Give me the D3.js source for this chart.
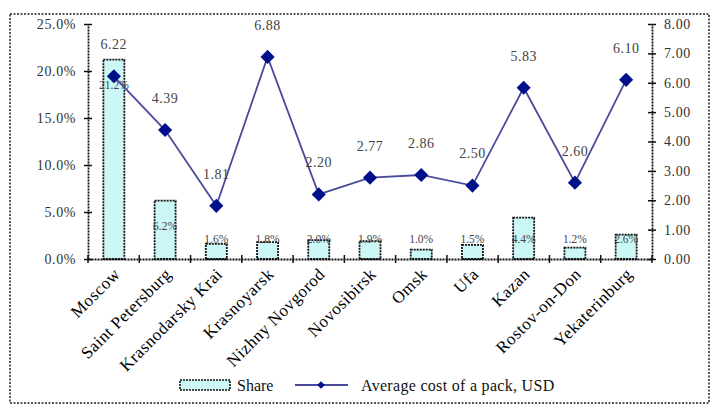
<!DOCTYPE html>
<html><head><meta charset="utf-8">
<script src="https://cdn.jsdelivr.net/npm/d3@7"></script>
<style>
body{margin:0;background:#fff;}
svg text{font-family:"Liberation Serif","DejaVu Serif",serif;}
</style></head>
<body>
<svg id="c" width="715" height="410"></svg>
<script>
const categories = ["Moscow","Saint Petersburg","Krasnodarsky Krai","Krasnoyarsk","Nizhny Novgorod","Novosibirsk","Omsk","Ufa","Kazan","Rostov-on-Don","Yekaterinburg"];
const shareValues = [21.2, 6.2, 1.6, 1.8, 2.0, 1.9, 1.0, 1.5, 4.4, 1.2, 2.6];
const costValues = [6.22, 4.39, 1.81, 6.88, 2.20, 2.77, 2.86, 2.50, 5.83, 2.60, 6.10];
const leftTicks = [0, 5, 10, 15, 20, 25];
const rightTicks = [0, 1, 2, 3, 4, 5, 6, 7, 8];
const seriesNames = ["Share", "Average cost of a pack, USD"];

const svg = d3.select("#c");
const L = 88, R = 652, T = 24, B = 259;

svg.append("rect").attr("x",10).attr("y",14).attr("width",699).attr("height",389)
  .attr("fill","#fff").attr("stroke","#222").attr("stroke-width",1.5).attr("stroke-dasharray","2,1.5");

const x = d3.scaleBand().domain(categories).range([L, R]).paddingInner(0.59).paddingOuter(0.3);
const yL = d3.scaleLinear().domain([0, 25]).range([B, T]);
const yR = d3.scaleLinear().domain([0, 8]).range([B, T]);

// bars
svg.append("g").selectAll("rect").data(categories).join("rect")
  .attr("x", d => x(d)).attr("width", x.bandwidth())
  .attr("y", (d,i) => yL(shareValues[i])).attr("height", (d,i) => yL(0) - yL(shareValues[i]))
  .attr("fill", "#ccf7f7").attr("stroke", "#111").attr("stroke-width", 1.8).attr("stroke-dasharray","2,1");

// axes
const axL = svg.append("g").attr("transform", `translate(${L},0)`)
  .call(d3.axisLeft(yL).tickValues(leftTicks).tickFormat(d => d.toFixed(1) + "%").tickSizeInner(4).tickSizeOuter(0).tickPadding(8));
axL.selectAll(".tick line").attr("x2", 4).attr("x1", -4);
const axR = svg.append("g").attr("transform", `translate(${R},0)`)
  .call(d3.axisRight(yR).tickValues(rightTicks).tickFormat(d => d.toFixed(2)).tickSizeInner(4).tickSizeOuter(0).tickPadding(8));
axR.selectAll(".tick line").attr("x1", -4).attr("x2", 4);
const axB = svg.append("g").attr("transform", `translate(0,${B})`)
  .call(d3.axisBottom(x).tickSize(0).tickFormat(""));
[axL, axR, axB].forEach(a => {
  a.select(".domain").attr("stroke","#111").attr("stroke-width",1.8).attr("stroke-dasharray","2,1");
  a.selectAll(".tick line").attr("stroke","#111").attr("stroke-width",1.5);
  a.selectAll("text").attr("font-size",14).attr("fill","#333").attr("letter-spacing","0.6px").attr("font-family","Liberation Serif, serif");
});
// category boundary ticks on x axis
const bounds = d3.range(categories.length + 1).map(i => L + (R - L) / categories.length * i);
svg.append("g").selectAll("line").data(bounds).join("line")
  .attr("x1", d => d).attr("x2", d => d).attr("y1", B - 4).attr("y2", B + 4)
  .attr("stroke", "#111").attr("stroke-width", 1.5);

// category labels
svg.append("g").selectAll("text").data(categories).join("text")
  .attr("transform", d => `translate(${x(d) + x.bandwidth()/2 + 3},${B + 12}) rotate(-45)`)
  .attr("text-anchor", "end").attr("dy", "0.35em")
  .attr("font-size", 17).attr("fill", "#000").attr("letter-spacing","0.5px")
  .text(d => d);

// bar labels
svg.append("g").selectAll("text").data(categories).join("text")
  .attr("x", d => x(d) + x.bandwidth()/2)
  .attr("y", (d,i) => Math.min(yL(shareValues[i]) + 25, B - 20))
  .attr("text-anchor", "middle").attr("dy","0.35em")
  .attr("font-size", 11.5).attr("fill", "#444")
  .text((d,i) => shareValues[i].toFixed(1) + "%");

// line
const cx = d => x(d) + x.bandwidth()/2;
svg.append("path").datum(categories)
  .attr("d", d3.line().x(d => cx(d)).y((d,i) => yR(costValues[i])))
  .attr("fill","none").attr("stroke","#4a4a9c").attr("stroke-width",1.8);
svg.append("g").selectAll("path").data(categories).join("path")
  .attr("transform", (d,i) => `translate(${cx(d)},${yR(costValues[i])}) rotate(45)`)
  .attr("d", d3.symbol().type(d3.symbolSquare).size(100))
  .attr("fill", "#00108a");
svg.append("g").selectAll("text").data(categories).join("text")
  .attr("x", d => cx(d)).attr("y", (d,i) => yR(costValues[i]) - 32)
  .attr("text-anchor","middle").attr("dy","0.35em")
  .attr("font-size", 14).attr("fill","#444").attr("letter-spacing","0.5px")
  .text((d,i) => costValues[i].toFixed(2));

// legend
const lg = svg.append("g");
lg.append("rect").attr("x",180).attr("y",380).attr("width",50).attr("height",10)
  .attr("fill","#ccf7f7").attr("stroke","#111").attr("stroke-width",1.6).attr("stroke-dasharray","2,1");
lg.append("text").attr("x",237).attr("y",385).attr("dy","0.35em").attr("font-size",16).attr("fill","#111").text(seriesNames[0]);
lg.append("line").attr("x1",295).attr("x2",348).attr("y1",385).attr("y2",385).attr("stroke","#4a4a9c").attr("stroke-width",1.8);
lg.append("path").attr("transform","translate(321,385) rotate(45)").attr("d", d3.symbol().type(d3.symbolSquare).size(30)).attr("fill","#00108a");
lg.append("text").attr("x",361).attr("y",385).attr("dy","0.35em").attr("font-size",16).attr("fill","#111").attr("letter-spacing","0.3px").text(seriesNames[1]);
</script>
</body></html>
